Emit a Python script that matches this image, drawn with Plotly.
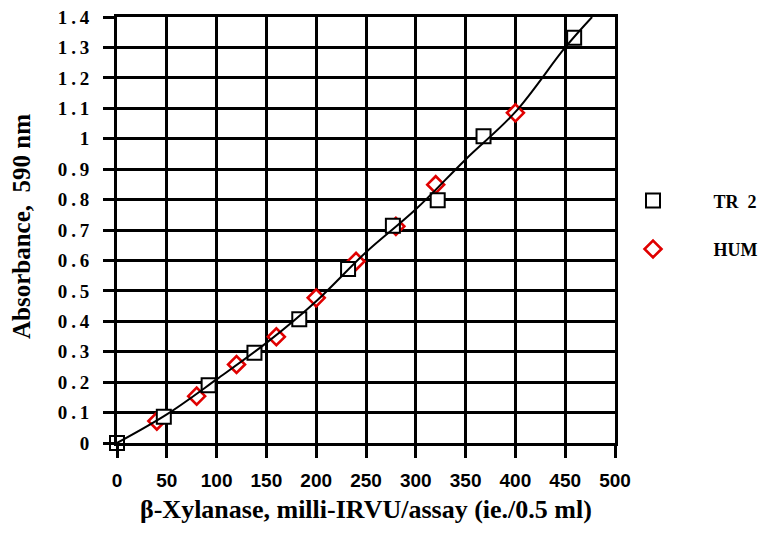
import plotly.graph_objects as go

# TR 2 (open squares)
tr2_x = [0, 47, 92, 138, 183, 232, 277, 322, 368, 459]
tr2_y = [0.0, 0.086, 0.19, 0.297, 0.407, 0.572, 0.714, 0.798, 1.008, 1.332]

# HUM (red diamonds)
hum_x = [40, 80, 120, 160, 200, 240, 280, 320, 400]
hum_y = [0.072, 0.154, 0.258, 0.349, 0.477, 0.597, 0.712, 0.849, 1.085]

# fitted curve
fit_x = [0, 50, 100, 150, 200, 250, 300, 350, 400, 450, 477]
fit_y = [0.0, 0.094, 0.209, 0.329, 0.466, 0.627, 0.768, 0.932, 1.088, 1.30, 1.40]

x_ticks = [0, 50, 100, 150, 200, 250, 300, 350, 400, 450, 500]
y_ticks = [0, 0.1, 0.2, 0.3, 0.4, 0.5, 0.6, 0.7, 0.8, 0.9, 1, 1.1, 1.2, 1.3, 1.4]
y_labels = ["0", "0.1", "0.2", "0.3", "0.4", "0.5", "0.6", "0.7", "0.8", "0.9",
            "1", "1.1", "1.2", "1.3", "1.4"]

serif = "Liberation Serif, Times New Roman, serif"
sans = "Liberation Sans, Arial, sans-serif"
NB = "\u00a0"
TS = "\u2009"

y_text = [t.replace(".", TS + "." + TS) for t in y_labels]

fig = go.Figure()
fig.add_trace(go.Scatter(
    x=hum_x, y=hum_y, mode="markers", name=NB * 9 + "HUM",
    legendrank=2, legendgroup="b",
    marker=dict(symbol="diamond", size=13, color="white",
                line=dict(color="#e00000", width=2.6)),
    cliponaxis=False))
fig.add_trace(go.Scatter(
    x=tr2_x, y=tr2_y, mode="markers", name=NB * 9 + "TR" + NB + NB + "2",
    legendrank=1, legendgroup="a",
    marker=dict(symbol="square", size=14, color="white",
                line=dict(color="black", width=2)),
    cliponaxis=False))
fig.add_trace(go.Scatter(
    x=fit_x, y=fit_y, mode="lines", showlegend=False,
    line=dict(color="black", width=2, shape="spline", smoothing=1.0),
    cliponaxis=True))

fig.update_layout(
    width=770, height=539,
    margin=dict(l=109, r=163, t=9, b=104),
    paper_bgcolor="white", plot_bgcolor="white",
    showlegend=True,
    legend=dict(xref="container", x=0.8117, xanchor="left",
                yref="paper", y=0.512, yanchor="middle",
                font=dict(family=serif, size=18, color="black", weight="bold"),
                traceorder="grouped", tracegroupgap=22,
                bgcolor="rgba(0,0,0,0)", itemwidth=30),
    xaxis=dict(range=[0, 500], tickvals=x_ticks, automargin=False,
               ticklabeloverflow="allow",
               showgrid=True, gridcolor="black", gridwidth=3,
               showline=True, linecolor="black", linewidth=3, mirror=True,
               zeroline=False,
               ticks="outside", ticklen=12, tickwidth=3, tickcolor="black",
               ticklabelstandoff=6,
               tickfont=dict(family=sans, size=19, color="black", weight="bold")),
    yaxis=dict(range=[0, 1.4], tickvals=y_ticks, ticktext=y_text, automargin=False,
               ticklabeloverflow="allow",
               showgrid=True, gridcolor="black", gridwidth=3,
               showline=True, linecolor="black", linewidth=3, mirror=True,
               zeroline=False,
               ticks="outside", ticklen=11, tickwidth=3, tickcolor="black",
               ticklabelstandoff=10,
               tickfont=dict(family=serif, size=19, color="black", weight="bold")),
    annotations=[
        dict(text="β-Xylanase, milli-IRVU/assay (ie./0.5 ml)",
             xref="paper", yref="paper", x=0.5, y=-0.157,
             xanchor="center", yanchor="middle", showarrow=False,
             font=dict(family=serif, size=26, color="black", weight="bold")),
        dict(text="Absorbance," + NB + NB + "590 nm",
             xref="paper", yref="paper", x=-0.193, y=0.509, textangle=-90,
             xanchor="center", yanchor="middle", showarrow=False,
             font=dict(family=serif, size=25, color="black", weight="bold")),
    ],
)

fig.write_html("out.html")
